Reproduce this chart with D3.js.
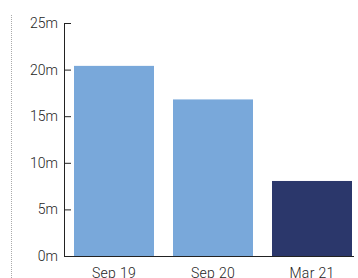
<!DOCTYPE html>
<html>
<head>
<meta charset="utf-8">
<script src="https://cdn.jsdelivr.net/npm/d3@7"></script>
<style>
body { margin: 0; background: #fff; }
svg { display: block; }
.axis text { font-family: Roboto, sans-serif; font-size: 14px; font-weight: 300; fill: #1e1e1e; }
</style>
</head>
<body>
<div id="chart"></div>
<script>
// chart values
var categories = ["Sep 19", "Sep 20", "Mar 21"];
var values = [20.4, 16.8, 8.05];
var barColors = ["#79a8da", "#79a8da", "#2b376b"];
var yTicks = [0, 5, 10, 15, 20, 25];

var width = 358, height = 278;

var svg = d3.select('#chart').append('svg')
  .attr("width", width)
  .attr("height", height);

// dotted separator on the left
svg.append("line")
  .attr("x1", 11.5).attr("x2", 11.5)
  .attr("y1", 15).attr("y2", height)
  .attr("stroke", "#aaa")
  .attr("stroke-dasharray", "1,1");

var x = d3.scaleBand()
  .domain(categories)
  .range([74, 352])
  .paddingInner(0.192)
  .paddingOuter(0);

var y = d3.scaleLinear()
  .domain([0, 25])
  .range([256, 23]);

// bars
svg.append("g")
  .selectAll("rect")
  .data(values)
  .enter().append("rect")
    .attr("x", function(d, i) { return x(categories[i]); })
    .attr("y", function(d) { return y(d); })
    .attr("width", x.bandwidth())
    .attr("height", function(d) { return y(0) - y(d); })
    .attr("fill", function(d, i) { return barColors[i]; });

// y axis
var yAxis = svg.append("g")
  .attr("class", "axis")
  .attr("transform", "translate(64,0)")
  .call(d3.axisLeft(y)
    .tickValues(yTicks)
    .tickSize(-7)
    .tickPadding(5)
    .tickFormat(function(d) { return d + "m"; }));
yAxis.selectAll("path, line").attr("stroke", "#222");
yAxis.selectAll("text").attr("x", -6);
yAxis.select(".tick:first-of-type line").remove();

// x axis
var xAxis = svg.append("g")
  .attr("class", "axis")
  .attr("transform", "translate(0,256.5)")
  .call(d3.axisBottom(x).tickSize(0).tickPadding(0));
xAxis.select(".domain").remove();
xAxis.selectAll("text").attr("y", 21).attr("dy", 0).attr("letter-spacing", "0.3px");

svg.append("line")
  .attr("x1", 64).attr("x2", 354)
  .attr("y1", 256.5).attr("y2", 256.5)
  .attr("stroke", "#222");
</script>
</body>
</html>
